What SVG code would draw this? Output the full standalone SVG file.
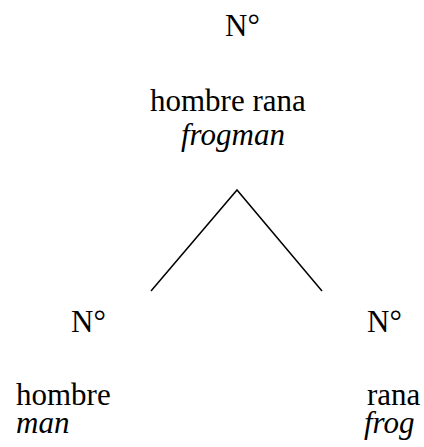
<svg xmlns="http://www.w3.org/2000/svg" width="424" height="447" viewBox="0 0 424 447">
<style>
text{font-family:"Liberation Serif","Times New Roman",serif;font-size:31px;fill:#000}
.it{font-style:italic}
.edge{stroke:#000;stroke-width:1.5;fill:none}
</style>
<rect width="424" height="447" fill="#fff"/>
<g id="root">
<text x="225" y="36">N°</text>
<text x="150" y="111">hombre rana</text>
<text class="it" x="181" y="145">frogman</text>
</g>
<g id="left">
<text x="71" y="332">N°</text>
<text x="16" y="405">hombre</text>
<text class="it" x="16" y="433">man</text>
</g>
<g id="right">
<text x="367" y="332">N°</text>
<text x="367" y="405">rana</text>
<text class="it" x="364" y="433">frog</text>
</g>
<g id="connectors">
<polyline class="edge" points="151,291 237,190 322,291"/>
</g>
</svg>
